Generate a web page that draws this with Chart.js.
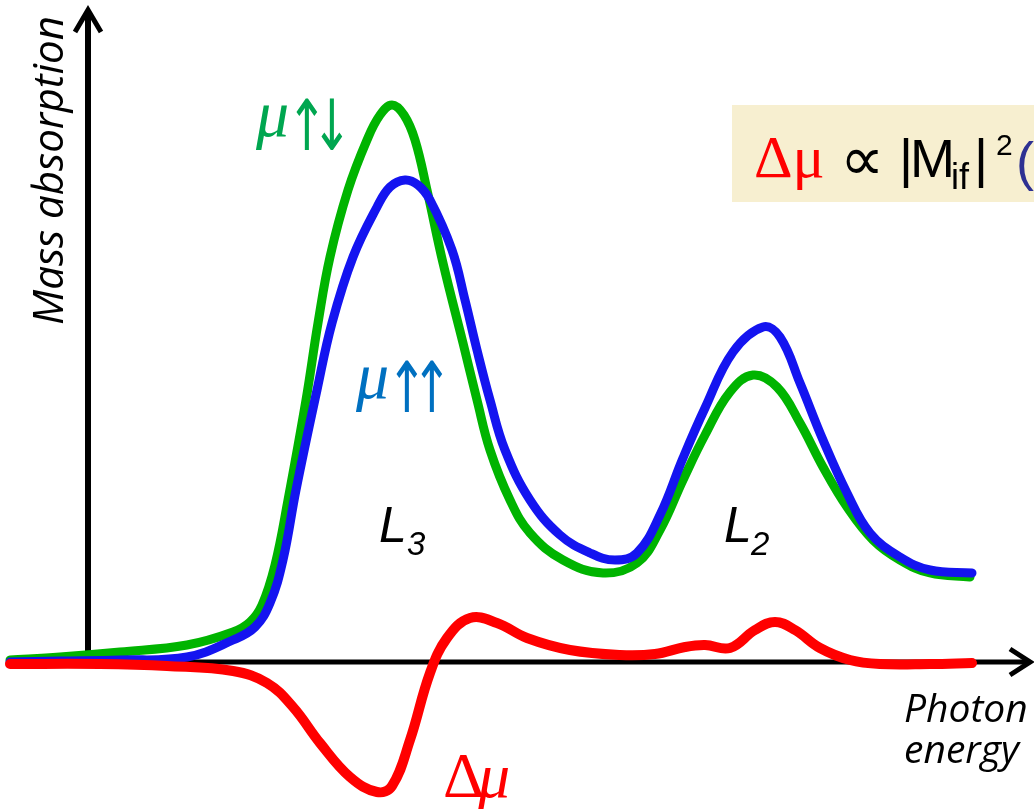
<!DOCTYPE html>
<html>
<head>
<meta charset="utf-8">
<script src="https://cdn.jsdelivr.net/npm/chart.js@4.4.1/dist/chart.umd.min.js"></script>
<style>
  html, body { margin: 0; padding: 0; background: #fff; }
  #wrap { width: 1034px; height: 809px; }
</style>
</head>
<body>
<div id="wrap"><canvas id="xmcd" width="1034" height="809"></canvas></div>
<script>
// mu up-down (antiparallel) absorption, arbitrary units
var energyAnti = [1.0, 6.0, 12.0, 18.7, 23.3, 25.0, 26.2, 27.5, 28.8, 30.6, 31.8, 33.0, 34.8, 36.7, 38.0, 39.2, 40.4, 41.5, 42.7, 44.3, 46.3, 47.7, 49.0, 51.0, 53.0, 56.3, 60.3, 63.7, 66.0, 68.3, 70.5, 73.0, 75.3, 77.7, 80.0, 82.3, 84.7, 87.3, 90.0, 93.0, 97.0];
var muAnti     = [0.2, 0.5, 1.0, 1.7, 3.0, 4.0, 5.7, 9.7, 16.2, 26.2, 33.9, 40.5, 47.2, 52.2, 54.7, 55.7, 54.7, 52.2, 47.2, 39.9, 31.9, 26.2, 21.2, 16.2, 12.9, 10.2, 8.9, 9.9, 13.2, 18.2, 22.7, 27.0, 28.7, 27.5, 23.9, 19.5, 15.5, 12.2, 10.2, 8.9, 8.5];

// mu up-up (parallel) absorption
var energyPara = [1.0, 6.0, 12.0, 18.7, 23.3, 25.5, 27.0, 28.3, 29.6, 31.7, 33.2, 35.3, 37.7, 39.0, 40.5, 41.8, 43.0, 45.2, 46.5, 47.7, 49.0, 50.5, 53.0, 56.0, 59.0, 61.5, 63.7, 66.0, 68.3, 70.5, 73.3, 76.3, 78.0, 80.0, 82.3, 84.7, 87.0, 90.0, 93.0, 97.2];
var muPara     = [0.0, 0.1, 0.2, 0.5, 2.2, 3.5, 5.9, 10.2, 17.2, 27.2, 33.9, 40.5, 45.5, 47.5, 48.2, 47.7, 46.2, 41.2, 36.2, 31.2, 26.2, 21.2, 16.2, 12.7, 10.9, 10.2, 10.9, 14.7, 20.4, 25.4, 31.0, 33.5, 32.5, 27.9, 22.2, 16.9, 12.9, 10.5, 9.2, 8.9];

// dichroic difference signal
var energyDiff = [1.0, 10.0, 16.7, 23.3, 26.7, 29.3, 32.0, 35.0, 37.7, 39.2, 41.0, 43.0, 44.7, 47.0, 49.7, 52.7, 57.0, 62.0, 65.5, 68.5, 70.5, 73.0, 75.5, 77.5, 79.5, 82.0, 85.0, 88.0, 93.0, 97.2];
var deltaMu    = [-0.2, -0.2, -0.4, -0.9, -2.1, -4.5, -8.1, -11.5, -13.0, -12.4, -7.8, -1.1, 2.4, 4.4, 3.9, 2.4, 1.2, 0.7, 0.8, 1.5, 1.7, 1.4, 3.2, 4.0, 3.2, 1.4, 0.2, -0.2, -0.2, -0.1];

function pts(xs, ys) {
  return xs.map(function (x, i) { return { x: x, y: ys[i] }; });
}

// axes with arrow heads + all the labels
var sketch = {
  id: 'sketch',
  beforeDatasetsDraw: function (chart) {
    var ctx = chart.ctx, sx = chart.scales.x, sy = chart.scales.y;
    ctx.save();
    ctx.strokeStyle = '#000';
    ctx.lineCap = 'butt';
    ctx.lineJoin = 'miter';

    // energy axis
    var y0 = sy.getPixelForValue(0);
    var xl = sx.getPixelForValue(1.0), xr = sx.getPixelForValue(103.0);
    ctx.lineWidth = 5;
    ctx.beginPath(); ctx.moveTo(xl, y0); ctx.lineTo(xr - 2, y0); ctx.stroke();
    ctx.beginPath();
    ctx.moveTo(xr - 20, y0 - 13); ctx.lineTo(xr, y0); ctx.lineTo(xr - 20, y0 + 13);
    ctx.stroke();

    // absorption axis
    var ax = sx.getPixelForValue(8.8);
    var yb = sy.getPixelForValue(0.2), yt = sy.getPixelForValue(65.2);
    ctx.lineWidth = 6;
    ctx.beginPath(); ctx.moveTo(ax, yb); ctx.lineTo(ax, yt + 2); ctx.stroke();
    ctx.lineWidth = 5;
    ctx.beginPath();
    ctx.moveTo(ax - 13, yt + 22); ctx.lineTo(ax, yt); ctx.lineTo(ax + 13, yt + 22);
    ctx.stroke();

    // formula box
    ctx.fillStyle = '#f7efd0';
    ctx.fillRect(732, 105, 310, 97);
    ctx.restore();
  },
  afterDatasetsDraw: function (chart) {
    var ctx = chart.ctx;
    ctx.save();
    ctx.textBaseline = 'alphabetic';
    ctx.textAlign = 'left';

    // axis titles
    ctx.fillStyle = '#000';
    ctx.font = 'italic 39px "Open Sans"';
    ctx.fillText('Photon', 904, 722);
    ctx.fillText('energy', 904, 763);

    ctx.save();
    ctx.translate(63, 325);
    ctx.rotate(-Math.PI / 2);
    ctx.font = 'italic 42px "Open Sans"';
    ctx.fillText('Mass absorption', 0, 0);
    ctx.restore();

    // edge labels
    ctx.font = 'italic 50px "Liberation Sans"';
    ctx.fillText('L', 379, 542);
    ctx.fillText('L', 724, 542);
    ctx.font = 'italic 33px "Liberation Sans"';
    ctx.fillText('3', 407, 555);
    ctx.fillText('2', 751, 555);

    // curve labels: italic mu followed by tall spin arrows
    function muLabel(color, arrows, x, y) {
      ctx.fillStyle = color;
      ctx.font = 'italic 66px "Liberation Serif"';
      ctx.fillText('\u03bc', x, y);
      ctx.textAlign = 'center';
      ctx.font = '44px "DejaVu Sans"';
      for (var i = 0; i < arrows.length; i++) {
        ctx.save();
        ctx.translate(x + 51 + i * 25, y + 14);
        ctx.scale(1.1, 1.6);
        ctx.fillText(arrows[i], 0, 0);
        ctx.restore();
      }
      ctx.textAlign = 'left';
    }
    muLabel('#00a650', '\u2191\u2193', 256, 136);
    muLabel('#0070c0', '\u2191\u2191', 356, 398);

    ctx.fillStyle = '#ff0000';
    ctx.font = '64px "Liberation Serif"';
    ctx.fillText('\u0394', 443, 797);
    ctx.font = 'italic 64px "Liberation Serif"';
    ctx.fillText('\u03bc', 478, 797);

    // formula
    ctx.font = '60px "Liberation Serif"';
    ctx.fillText('\u0394\u03bc', 754, 177);
    ctx.fillStyle = '#000';
    ctx.font = '62px "DejaVu Sans"';
    ctx.fillText('\u221d', 840, 180);
    ctx.font = '54px "Liberation Sans"';
    ctx.fillText('|', 899, 177);
    ctx.fillText('M', 910, 177);
    ctx.font = '36px "Liberation Sans"';
    ctx.fillText('if', 951, 189);
    ctx.font = '54px "Liberation Sans"';
    ctx.fillText('|', 974, 177);
    ctx.font = '30px "Liberation Sans"';
    ctx.fillText('2', 996, 155);
    ctx.fillStyle = '#2e3192';
    ctx.font = '54px "Liberation Sans"';
    ctx.fillText('(', 1016, 180);
    ctx.restore();
  }
};

new Chart(document.getElementById('xmcd'), {
  type: 'line',
  data: {
    datasets: [
      { label: '\u0394\u03bc', data: pts(energyDiff, deltaMu), borderColor: '#ff0000', borderWidth: 10, order: 0 },
      { label: '\u03bc\u2191\u2191', data: pts(energyPara, muPara), borderColor: '#1414f0', borderWidth: 9, order: 1 },
      { label: '\u03bc\u2191\u2193', data: pts(energyAnti, muAnti), borderColor: '#00b400', borderWidth: 9, order: 2 }
    ]
  },
  options: {
    responsive: false,
    animation: false,
    layout: { padding: 0 },
    elements: {
      point: { radius: 0 },
      line: { tension: 0.4, borderCapStyle: 'round', borderJoinStyle: 'round', fill: false }
    },
    scales: {
      x: { type: 'linear', min: 0, max: 103.4, display: false },
      y: { type: 'linear', min: -14.7, max: 66.2, display: false }
    },
    plugins: { legend: { display: false }, tooltip: { enabled: false } }
  },
  plugins: [sketch]
});
</script>
</body>
</html>
